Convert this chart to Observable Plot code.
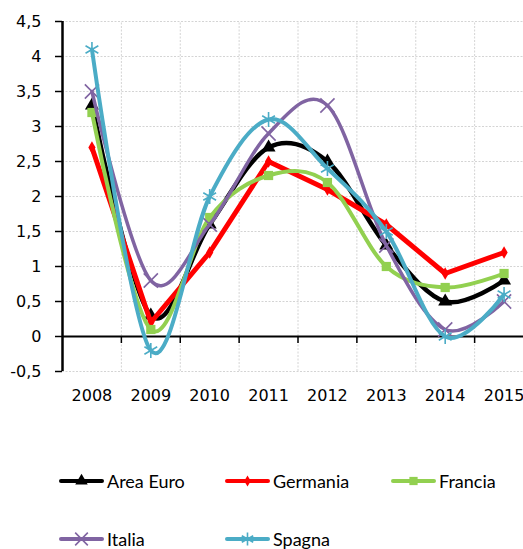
<!DOCTYPE html>
<html>
<head>
<meta charset="utf-8">
<script src="https://cdn.jsdelivr.net/npm/d3@7"></script>
<script src="https://cdn.jsdelivr.net/npm/@observablehq/plot@0.6"></script>
<style>
  html, body { margin: 0; padding: 0; background: #fff; }
  #wrap { position: relative; width: 523px; height: 549px; overflow: hidden; }
  .leg { position: absolute; display: flex; align-items: center; font-family: Lato, "Open Sans", sans-serif; font-size: 18px; color: #000; white-space: nowrap; }
  .leg svg { display: block; margin-right: 2px; }
</style>
</head>
<body>
<div id="wrap"></div>
<script>
// ---- data ----
const years = [2008, 2009, 2010, 2011, 2012, 2013, 2014, 2015];
const areaEuro = [3.3, 0.3, 1.6, 2.7, 2.5, 1.3, 0.5, 0.8];
const germania = [2.7, 0.2, 1.2, 2.5, 2.1, 1.6, 0.9, 1.2];
const francia  = [3.2, 0.1, 1.7, 2.3, 2.2, 1.0, 0.7, 0.9];
const italia   = [3.5, 0.8, 1.6, 2.9, 3.3, 1.3, 0.1, 0.5];
const spagna   = [4.1, -0.2, 2.0, 3.1, 2.4, 1.5, 0.0, 0.6];
const seriesNames = ["Area Euro", "Germania", "Francia", "Italia", "Spagna"];
const yTicks = [-0.5, 0, 0.5, 1, 1.5, 2, 2.5, 3, 3.5, 4, 4.5];

// ---- styles ----
const styles = {
  "Area Euro": {color: "#000000", width: 4.5, curve: "cardinal", symbol: "triangle", r: 5.2, filled: true},
  "Germania":  {color: "#ff0000", width: 5,   curve: "linear",   symbol: "diamond",  r: 3.8, filled: true},
  "Francia":   {color: "#92d050", width: 4,   curve: "cardinal", symbol: "square",   r: 5.2, filled: true},
  "Italia":    {color: "#8064a2", width: 3.5, curve: "cardinal", symbol: "times",    r: 6.5, filled: false},
  "Spagna":    {color: "#4bacc6", width: 4,   curve: "cardinal", symbol: "asterisk", r: 7,   filled: false}
};

const valuesByName = {"Area Euro": areaEuro, "Germania": germania, "Francia": francia, "Italia": italia, "Spagna": spagna};
const data = seriesNames.flatMap(name => years.map((year, i) => ({name, year, value: valuesByName[name][i]})));
const bounds = years.map(y => y + 0.5);
const grid = {stroke: "#d4d4d4", strokeDasharray: "2,1.5", strokeWidth: 1};

const marks = [
  Plot.ruleY(yTicks, grid),
  Plot.ruleX(bounds, {...grid, y1: yTicks[0], y2: yTicks[yTicks.length - 1]}),
  Plot.ruleY([0], {stroke: "#000", strokeWidth: 2}),
  Plot.ruleX(bounds, {y1: 0, y2: 0, insetBottom: -7, stroke: "#000", strokeWidth: 1.5}),
  Plot.ruleX([years[0] - 0.5], {y1: yTicks[0], y2: yTicks[yTicks.length - 1], stroke: "#000", strokeWidth: 2.5}),
  Plot.axisY(yTicks, {anchor: "left", label: null, tickSize: 7, tickPadding: 14, strokeWidth: 1.5, fontSize: 16, fill: "#000",
    tickFormat: d => String(d).replace(".", ",")}),
  Plot.axisX(years, {anchor: "bottom", label: null, tickSize: 0, tickPadding: 18, fontSize: 16, fill: "#000", tickFormat: d => String(d)})
];

for (const name of seriesNames) {
  const s = styles[name];
  const rows = data.filter(d => d.name === name);
  marks.push(Plot.line(rows, {x: "year", y: "value", stroke: s.color, strokeWidth: s.width, curve: s.curve, strokeLinejoin: "round", strokeLinecap: "round"}));
  marks.push(Plot.dot(rows, s.filled
    ? {x: "year", y: "value", symbol: () => s.symbol, r: s.r, fill: s.color, stroke: "none"}
    : {x: "year", y: "value", symbol: () => s.symbol, r: s.r, fill: "none", stroke: s.color, strokeWidth: 1.6}));
}

const chart = Plot.plot({
  width: 523, height: 420,
  marginLeft: 62, marginTop: 21, marginRight: 0, marginBottom: 49,
  x: {type: "linear", domain: [years[0] - 0.5, years[years.length - 1] + 0.5], range: [62, 533], label: null},
  y: {domain: [yTicks[0], yTicks[yTicks.length - 1]], range: [371, 21], label: null},
  symbol: {type: "identity"},
  style: {fontFamily: "DejaVu Sans, Verdana, sans-serif", color: "#000", background: "#fff"},
  marks
});
const wrap = document.getElementById("wrap");
chart.style.position = "absolute";
chart.style.left = "0px";
chart.style.top = "0px";
wrap.appendChild(chart);

// ---- legend ----
const legendPos = {
  "Area Euro": [58, 481], "Germania": [224, 481], "Francia": [390, 481],
  "Italia": [58, 539], "Spagna": [224, 539]
};
const symbolMap = {triangle: d3.symbolTriangle, diamond: d3.symbolDiamond, square: d3.symbolSquare, times: d3.symbolTimes, asterisk: d3.symbolAsterisk};
for (const name of seriesNames) {
  const s = styles[name];
  const [lx, ly] = legendPos[name];
  const div = document.createElement("div");
  div.className = "leg";
  div.style.left = lx + "px";
  div.style.top = (ly - 12) + "px";
  div.style.height = "24px";
  const svg = d3.create("svg").attr("width", 47).attr("height", 24);
  svg.append("line").attr("x1", 3).attr("x2", 44).attr("y1", 12).attr("y2", 12)
    .attr("stroke", s.color).attr("stroke-width", 4).attr("stroke-linecap", "round");
  const p = svg.append("path").attr("transform", "translate(23.5,12)")
    .attr("d", d3.symbol(symbolMap[s.symbol], Math.PI * s.r * s.r * 0.8)());
  if (s.filled) p.attr("fill", s.color); else p.attr("fill", "none").attr("stroke", s.color).attr("stroke-width", 1.6);
  div.appendChild(svg.node());
  const span = document.createElement("span");
  span.textContent = name;
  div.appendChild(span);
  wrap.appendChild(div);
}
</script>
</body>
</html>
